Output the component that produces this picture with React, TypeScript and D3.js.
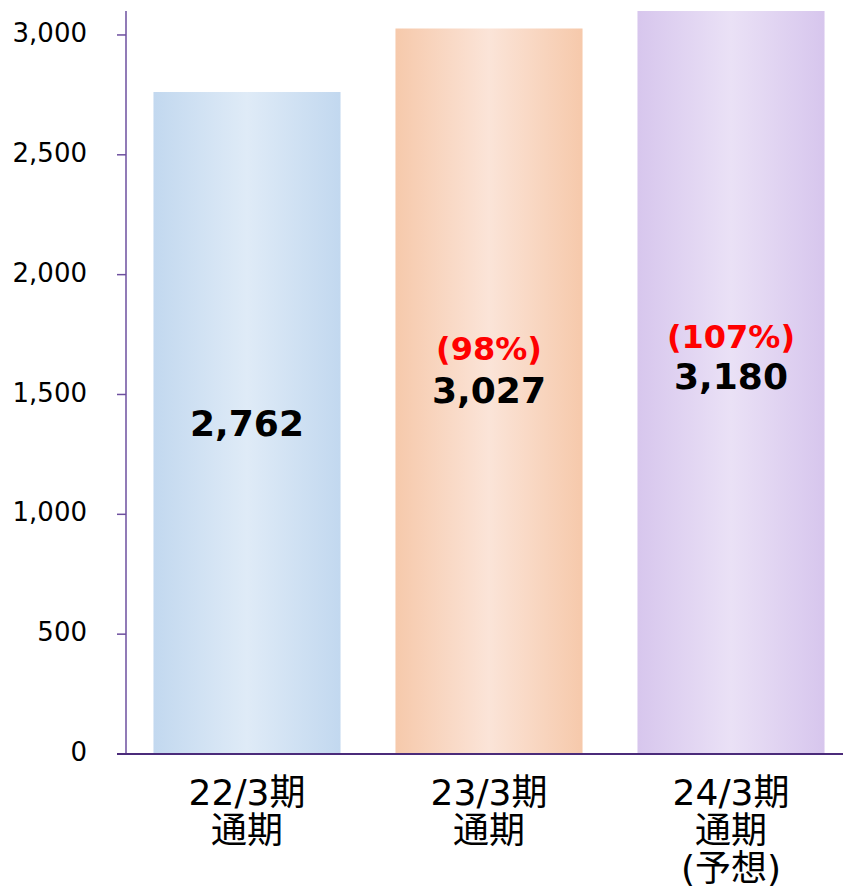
import React from "react";
import * as d3 from "d3";

const periods = ["22/3期", "23/3期", "24/3期"];
const subLabels = [["通期"], ["通期"], ["通期", "(予想)"]];
const sales = [2762, 3027, 3180];
const ratios = ["", "(98%)", "(107%)"];
const yTicks = [0, 500, 1000, 1500, 2000, 2500, 3000];
const yMax = 3100;

const fills = [
  { edge: "#c2d8ef", mid: "#dfebf7" },
  { edge: "#f6c9ab", mid: "#fbe4d8" },
  { edge: "#d7c6ed", mid: "#eae1f6" },
];

// label placement relative to the visible bar middle
const valueShift = [13, 12, 6];
const ratioGap = [0, 43, 41];

const W = 843;
const H = 891;
const axisX = 126;
const baseY = 754;
const topY = 11;

const App = () => {
  const x = d3
    .scaleBand<string>()
    .domain(periods)
    .range([axisX, 852])
    .paddingInner(0.227)
    .paddingOuter(0.1135);
  const y = d3.scaleLinear([0, yMax], [baseY, topY]).clamp(true);
  const font = "'DejaVu Sans', Verdana, 'Noto Sans CJK JP', sans-serif";
  const axisColor = "#6d4f9f";

  return (
    <svg
      width={W}
      height={H}
      style={{ position: "absolute", left: 0, top: 0, fontFamily: font }}
    >
      <defs>
        {fills.map((f, i) => (
          <linearGradient key={i} id={`g${i}`} x1="0" x2="1" y1="0" y2="0">
            <stop offset="0" stopColor={f.edge} />
            <stop offset="0.5" stopColor={f.mid} />
            <stop offset="1" stopColor={f.edge} />
          </linearGradient>
        ))}
      </defs>

      {periods.map((p, i) => (
        <rect
          key={p}
          x={x(p)}
          y={y(sales[i])}
          width={x.bandwidth()}
          height={baseY - y(sales[i])}
          fill={`url(#g${i})`}
        />
      ))}

      {/* y axis */}
      <line x1={axisX} x2={axisX} y1={topY} y2={baseY} stroke={axisColor} strokeWidth={1.5} />
      {yTicks.map((t) => (
        <g key={t} transform={`translate(0,${y(t)})`}>
          <line x1={axisX - 9} x2={axisX} stroke={axisColor} strokeWidth={1.5} />
          <text x={87} dy="0.27em" textAnchor="end" fontSize={26} fill="#000">
            {d3.format(",")(t)}
          </text>
        </g>
      ))}
      <line x1={axisX - 9} x2={W} y1={baseY} y2={baseY} stroke="#4b2b7a" strokeWidth={2.2} />

      {/* value labels */}
      {periods.map((p, i) => {
        const cx = x(p)! + x.bandwidth() / 2;
        const mid = (y(sales[i]) + baseY) / 2;
        const vy = mid + valueShift[i];
        return (
          <g key={p} fontWeight="bold" textAnchor="middle">
            {ratios[i] && (
              <text x={cx} y={vy - ratioGap[i]} fontSize={32} fill="#ff0000">
                {ratios[i]}
              </text>
            )}
            <text x={cx} y={vy} fontSize={36} fill="#000">
              {d3.format(",")(sales[i])}
            </text>
          </g>
        );
      })}

      {/* category labels */}
      {periods.map((p, i) => {
        const cx = x(p)! + x.bandwidth() / 2;
        const lines = [p, ...subLabels[i]];
        return (
          <text key={p} textAnchor="middle" fontSize={36} fill="#000">
            {lines.map((l, j) => (
              <tspan key={j} x={cx} y={805 + j * 38}>
                {l}
              </tspan>
            ))}
          </text>
        );
      })}
    </svg>
  );
};

export default App;
